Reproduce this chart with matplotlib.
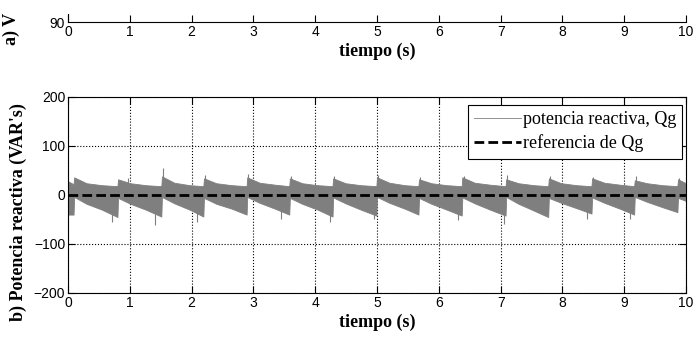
import numpy as np
import matplotlib
matplotlib.use("Agg")
import matplotlib.pyplot as plt

# envelope of the reactive power band
env_t = [0.00, 0.09,
         0.10, 0.30, 0.55, 0.80,
         0.81, 1.01, 1.26, 1.51,
         1.52, 1.72, 1.97, 2.19,
         2.20, 2.40, 2.65, 2.89,
         2.90, 3.10, 3.35, 3.58,
         3.59, 3.79, 4.04, 4.28,
         4.29, 4.49, 4.74, 4.99,
         5.00, 5.20, 5.45, 5.67,
         5.68, 5.88, 6.13, 6.37,
         6.38, 6.58, 6.83, 7.08,
         7.09, 7.29, 7.54, 7.77,
         7.78, 7.98, 8.23, 8.47,
         8.48, 8.68, 8.93, 9.16,
         9.17, 9.37, 9.62, 9.86,
         9.87, 10.0]
env_hi = [28, 22,
          36, 24, 20, 18,
          32, 24, 20, 18,
          38, 25, 20, 18,
          34, 24, 20, 18,
          36, 25, 21, 18,
          34, 24, 20, 18,
          34, 24, 20, 18,
          36, 25, 20, 18,
          32, 24, 20, 18,
          36, 25, 21, 18,
          32, 24, 20, 18,
          34, 24, 20, 18,
          34, 25, 21, 18,
          30, 24, 20, 18,
          32, 24]
env_lo = [-40, -40,
          -4, -18, -30, -45,
          -6, -18, -30, -44,
          -4, -17, -30, -44,
          -6, -18, -28, -40,
          -4, -16, -28, -40,
          -6, -18, -30, -44,
          -5, -17, -30, -42,
          -4, -16, -28, -40,
          -6, -18, -30, -42,
          -5, -17, -30, -42,
          -4, -18, -32, -45,
          -6, -16, -27, -38,
          -5, -16, -28, -40,
          -4, -14, -25, -35,
          -6, -12]

# isolated spikes sticking out of the band
spike_t = [0.97, 1.54, 2.22, 2.92, 3.61, 4.31, 5.02, 5.70, 6.40, 7.11, 7.80, 8.50, 9.19, 9.89,
           0.71, 1.41, 2.09, 3.45, 4.24, 4.95, 6.31, 7.06, 8.40, 9.10]
spike_v = [34, 55, 40, 42, 38, 38, 40, 36, 38, 40, 38, 36, 38, 34,
           -55, -62, -55, -50, -55, -50, -52, -60, -50, -48]

ref_t = [0, 10]
ref_q = [0, 0]

xticks = list(range(0, 11))
yticks = [-200, -100, 0, 100, 200]

gray = '#7f7f7f'
plt.rcParams['font.family'] = 'Liberation Sans'
plt.rcParams['font.size'] = 10

fig = plt.figure(figsize=(6.96, 3.37), dpi=100)

# cropped upper panel: only its bottom edge is left
ax1 = fig.add_axes([0.0977, 0.9347, 0.888, 0.0237])
ax1.set_xlim(0, 10)
ax1.set_ylim(90, 91)
ax1.set_xticks(xticks)
ax1.set_yticks([90])
ax1.spines['top'].set_visible(False)
ax1.spines['right'].set_visible(False)
ax1.tick_params(direction='in', length=5, pad=2, labelsize=10, top=False, right=False)
ax1.tick_params(axis='y', length=0, pad=2)
ax1.set_xlabel('tiempo (s)', family='Liberation Serif', fontweight='bold', fontsize=13, labelpad=3)

# lower panel
ax2 = fig.add_axes([0.0977, 0.1306, 0.888, 0.5816])
ax2.set_axisbelow(True)
ax2.fill_between(env_t, env_lo, env_hi, color=gray, linewidth=0.6, edgecolor=gray)
ax2.vlines(spike_t, 0, spike_v, color=gray, linewidth=0.8)
ax2.plot([], [], color=gray, linewidth=0.6, label='potencia reactiva, Qg')
ax2.plot(ref_t, ref_q, color='black', linestyle='--', linewidth=2, dashes=(3.5, 1.5),
         label='referencia de Qg')
ax2.set_xlim(0, 10)
ax2.set_ylim(-200, 200)
ax2.set_xticks(xticks)
ax2.set_yticks(yticks)
ax2.grid(True, color='black', linestyle=':', linewidth=0.8)
ax2.tick_params(direction='in', length=5, pad=2, labelsize=10, top=True, right=True)
ax2.set_xlabel('tiempo (s)', family='Liberation Serif', fontweight='bold', fontsize=13, labelpad=3)
leg = ax2.legend(loc='upper right', bbox_to_anchor=(0.994, 0.96),
                 prop={'family': 'Liberation Serif', 'size': 13},
                 fancybox=False, framealpha=1, edgecolor='black',
                 handlelength=2.6, handletextpad=0.1, borderpad=0.35, labelspacing=0.35,
                 borderaxespad=0)
leg.get_frame().set_linewidth(0.8)

fig.text(0.017, 0.915, 'a) V', rotation=90, ha='center', va='center',
         family='Liberation Serif', fontweight='bold', fontsize=13)
fig.text(0.026, 0.371, "b) Potencia reactiva (VAR's)", rotation=90, ha='center', va='center',
         family='Liberation Serif', fontweight='bold', fontsize=13)

fig.savefig('out.png', dpi=100)
